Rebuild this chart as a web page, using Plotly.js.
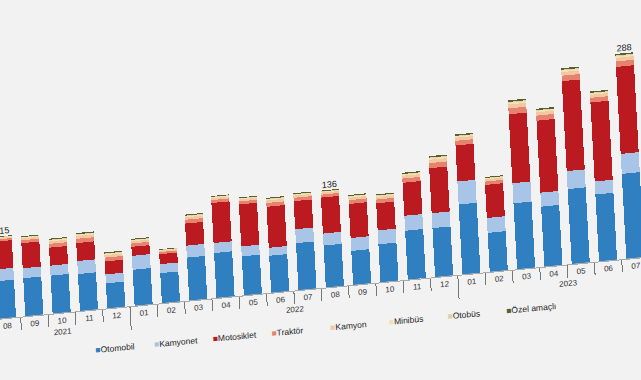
<!DOCTYPE html>
<html><head><meta charset="utf-8">
<script src="https://cdn.plot.ly/plotly-3.0.1.min.js"></script>
<style>
html,body{margin:0;padding:0;background:#f2f2f2;overflow:hidden;width:641px;height:380px;}
#chart{position:absolute;left:0;top:0;width:743px;height:400px;transform-origin:0 0;transform:matrix(1,-0.0955,0.054,1,-63.94,3.12);}
</style></head><body><div id="chart"></div>
<script>
// Months (Aug 2021 - Aug 2023), values in thousand vehicles
const years = ['2021','2021','2021','2021','2021',
  '2022','2022','2022','2022','2022','2022','2022','2022','2022','2022','2022','2022',
  '2023','2023','2023','2023','2023','2023','2023','2023'];
const months = ['08','09','10','11','12','01','02','03','04','05','06','07','08','09','10','11','12','01','02','03','04','05','06','07','08'];

const otomobil   = [52.6,53.3,53.3,51.9,35.1,50.5,42.1,60.3,63.1,54.7,51.9,65.9,58.9,47.7,53.3,68.7,68.7,98.2,54.7,92.6,84.2,105.2,94.0,119.2,null];
const kamyonet   = [16.6,14.0,14.0,18.2,12.6,19.6,12.6,16.8,14.0,14.0,11.2,19.6,16.8,18.2,19.6,21.0,21.0,32.3,21.0,28.1,19.6,25.2,18.2,28.1,null];
const motosiklet = [38.9,35.1,25.2,25.2,18.2,12.6,14.0,30.9,56.1,58.9,57.5,39.3,50.5,47.7,37.9,46.3,63.1,50.5,46.3,96.8,101.0,126.2,110.8,122.0,null];
const traktor    = [2.9,4.1,5.3,5.9,5.3,4.7,2.9,5.3,4.1,4.1,5.3,4.7,4.1,5.3,5.3,5.9,7.1,6.5,4.7,8.2,7.1,7.6,6.5,7.6,null];
const kamyon     = [2.0,2.7,3.5,3.9,3.5,3.1,2.0,3.5,2.7,2.7,3.5,3.1,2.7,3.5,3.5,3.9,4.7,4.3,3.1,5.5,4.7,5.1,4.3,5.1,null];
const minibus    = [0.8,1.2,1.5,1.7,1.5,1.3,0.8,1.5,1.2,1.2,1.5,1.3,1.2,1.5,1.5,1.7,2.0,1.8,1.3,2.4,2.0,2.2,1.8,2.2,null];
const otobus     = [0.4,0.6,0.8,0.8,0.8,0.7,0.4,0.8,0.6,0.6,0.8,0.7,0.6,0.8,0.8,0.8,1.0,0.9,0.7,1.2,1.0,1.1,0.9,1.1,null];
const ozel       = [0.9,1.2,1.5,1.7,1.5,1.4,0.9,1.5,1.2,1.2,1.5,1.4,1.2,1.5,1.5,1.7,2.0,1.9,1.4,2.3,2.0,2.2,1.9,2.2,null];

const seriesNames = ['Otomobil','Kamyonet','Motosiklet','Traktör','Kamyon','Minibüs','Otobüs','Özel amaçlı'];
const labelIdx = [0, 12, 23];
const labelText = ['115','136','288'];

const seriesData = [otomobil,kamyonet,motosiklet,traktor,kamyon,minibus,otobus,ozel];
const colors = ['#2f7fc1','#a8c4e6','#bc1a21','#e5836f','#f3c7a4','#f1e2b5','#d8d2a4','#5b5f2e'];

// keep each year's month labels distinct so the grouped axis keeps calendar order
const yearList = [...new Set(years)];
const monthKeys = months.map((m,i)=> m + '\u200b'.repeat(yearList.indexOf(years[i])));

const legendIds = seriesNames.map((_,i)=> i===0 ? 'legend' : 'legend'+(i+1));

const traces = seriesData.map((d,i)=>({
  type:'bar', name:seriesNames[i], x:[years,monthKeys], y:d, showlegend:false, legendgroup:'g'+i,
  marker:{color:colors[i], line:{width:0}}
}));
// legend entries: small coloured square glyph right before each name, evenly spaced
seriesNames.forEach((n,i)=>traces.push({
  type:'scatter', mode:'lines', legendgroup:'g'+i, x:[[null],[null]], y:[null],
  name:'<span style="color:'+colors[i]+'">■</span>'+n,
  legend: legendIds[i], line:{width:0, color:colors[i]}, showlegend:true
}));
const totals = months.map((_,j)=>seriesData.reduce((s,d)=>s+(d[j]||0),0));
traces.push({
  type:'scatter', mode:'text', showlegend:false, cliponaxis:false,
  x:[labelIdx.map(i=>years[i]), labelIdx.map(i=>monthKeys[i])],
  y:labelIdx.map(i=>totals[i]),
  text:labelText, textposition:'top center',
  textfont:{family:'Liberation Sans, Arial, sans-serif', size:9, color:'#222'}
});

const layout = {
  width:743, height:400,
  margin:{l:40,r:20,t:20,b:80},
  paper_bgcolor:'#f2f2f2', plot_bgcolor:'#f2f2f2',
  barmode:'stack', bargap:0.34,
  font:{family:'Liberation Sans, Arial, sans-serif', size:8, color:'#333'},
  xaxis:{type:'multicategory', range:[-0.5,24.5], ticks:'outside', ticklen:12, tickcolor:'#777',
         showline:true, linecolor:'#aaa', showdividers:true, dividercolor:'#777', dividerwidth:1,
         tickfont:{size:8,color:'#333'}, showgrid:false},
  yaxis:{range:[0,421], visible:false, showgrid:false, zeroline:false},
  showlegend:true
};
legendIds.forEach((id,i)=>{
  layout[id] = {orientation:'h', x:0.0877 + i*0.08594, y:-0.133, xanchor:'left', yanchor:'middle',
    font:{size:8.5,color:'#222'}, itemwidth:30, bgcolor:'rgba(0,0,0,0)'};
});
Plotly.newPlot('chart', traces, layout, {staticPlot:true, displayModeBar:false});
</script></body></html>
